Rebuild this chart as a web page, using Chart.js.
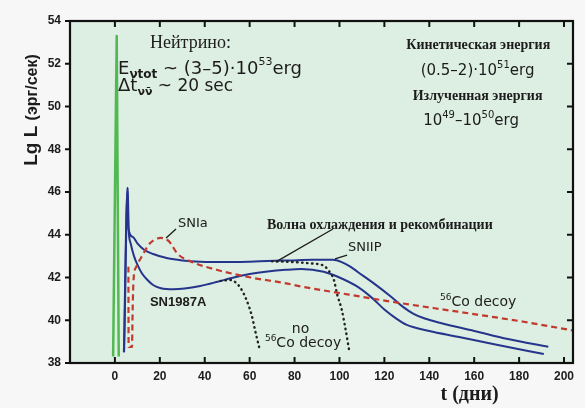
<!DOCTYPE html>
<html>
<head>
<meta charset="utf-8">
<script src="https://cdn.jsdelivr.net/npm/chart.js@4.4.1/dist/chart.umd.min.js"></script>
<style>
  html, body { margin: 0; padding: 0; background: #f7f7f7; }
  #wrap { width: 585px; height: 408px; }
</style>
</head>
<body>
<div id="wrap"><canvas id="lumChart"></canvas></div>
<script>
// axis ticks: time in days, log luminosity
var xTicks = [0, 20, 40, 60, 80, 100, 120, 140, 160, 180, 200];
var yTicks = [38, 40, 42, 44, 46, 48, 50, 52, 54];

// neutrino burst
var neutrinoT = [-0.8, 0.8, 1.7];
var neutrinoL = [38.3, 53.3, 38.3];

// SNIIP light curve (plateau)
var sniipT = [4.0, 5.6, 6.0, 8, 10, 13, 17, 23.5, 30, 38, 50, 60, 68, 78, 88, 97, 101, 105, 108, 115, 123, 128, 133, 138, 145, 160, 175, 193];
var sniipL = [38.5, 46.2, 44.3, 43.9, 43.6, 43.3, 43.1, 42.9, 42.8, 42.74, 42.72, 42.74, 42.77, 42.8, 42.83, 42.83, 42.72, 42.5, 42.27, 41.75, 41.1, 40.65, 40.3, 40.08, 39.87, 39.5, 39.12, 38.76];

// SN1987A light curve
var sn87T = [4.1, 5.7, 6.1, 7, 8.5, 10, 12, 14.5, 17, 20.5, 26, 31, 38, 45.7, 52, 60, 68, 76, 83, 93, 100, 108, 115, 120, 125, 130, 140, 152.7, 170, 191];
var sn87L = [38.5, 46.2, 44.3, 43.6, 43.0, 42.6, 42.2, 41.88, 41.65, 41.5, 41.45, 41.48, 41.6, 41.8, 41.98, 42.16, 42.28, 42.36, 42.4, 42.27, 42.0, 41.57, 41.0, 40.5, 40.1, 39.78, 39.5, 39.23, 38.85, 38.42];

// SNIa light curve and 56Co decay tail
var sniaT = [6.0, 6.1, 7.6, 7.9, 8.3, 9.5, 11.9, 15.6, 20.5, 24, 28, 34, 45.6, 60.5, 75.5, 83, 100.7, 123, 152.7, 182, 204];
var sniaL = [42.5, 38.75, 38.75, 40.5, 41.9, 42.5, 42.97, 43.6, 43.85, 43.7, 43.1, 42.74, 42.35, 42.0, 41.74, 41.58, 41.26, 40.87, 40.4, 39.93, 39.52];

// curves without 56Co decay
var noCoAT = [47, 51.7, 54, 56, 58, 59.5, 61, 62.5, 64.3];
var noCoAL = [41.84, 41.88, 41.75, 41.5, 41.1, 40.7, 40.2, 39.5, 38.7];
var noCoBT = [70, 80, 87, 93, 96, 97.5, 99, 101, 102.5, 104.3];
var noCoBL = [42.76, 42.72, 42.66, 42.55, 42.2, 41.9, 41.2, 40.5, 39.7, 38.6];

function pts(ts, ls) {
  return ts.map(function (t, i) { return { x: t, y: ls[i] }; });
}

var BLUE = '#26358c';
var RED = '#c23a2e';
var INK = '#1c1c1c';
var SANS = "'DejaVu Sans'";
var SERIF = "'Liberation Serif'";

// draw a run of text pieces with their own fonts and vertical shifts
function drawRich(ctx, x, y, segs, align) {
  var total = 0;
  segs.forEach(function (s) { ctx.font = s.f; total += ctx.measureText(s.t).width; });
  var cx = align === 'center' ? x - total / 2 : x;
  ctx.textAlign = 'left';
  ctx.textBaseline = 'alphabetic';
  segs.forEach(function (s) {
    ctx.font = s.f;
    ctx.fillText(s.t, cx, y + (s.dy || 0));
    cx += ctx.measureText(s.t).width;
  });
}

var labels = [
  { t: 15.6, y: 52.74, segs: [{ t: 'Нейтрино:', f: '18px ' + SERIF }] },
  { t: 1.4, y: 51.52, segs: [
    { t: 'E', f: '18px ' + SANS },
    { t: 'νtot', f: 'bold 12px ' + SANS, dy: 4 },
    { t: ' ~ (3–5)·10', f: '18px ' + SANS },
    { t: '53', f: '11px ' + SANS, dy: -9 },
    { t: 'erg', f: '18px ' + SANS }] },
  { t: 1.4, y: 50.73, segs: [
    { t: 'Δt', f: '18px ' + SANS },
    { t: 'νν\u0304', f: 'bold 11px ' + SANS, dy: 4 },
    { t: ' ~ 20 sec', f: '17px ' + SANS }] },
  { t: 161.8, y: 52.69, align: 'center', segs: [{ t: 'Кинетическая энергия', f: 'bold 14px ' + SERIF }] },
  { t: 161.5, y: 51.47, align: 'center', segs: [
    { t: '(0.5–2)·10', f: '15px ' + SANS },
    { t: '51', f: '10px ' + SANS, dy: -7 },
    { t: 'erg', f: '15px ' + SANS }] },
  { t: 161.5, y: 50.30, align: 'center', segs: [{ t: 'Излученная энергия', f: 'bold 14px ' + SERIF }] },
  { t: 158.6, y: 49.13, align: 'center', segs: [
    { t: '10', f: '15px ' + SANS },
    { t: '49', f: '10px ' + SANS, dy: -7 },
    { t: '–10', f: '15px ' + SANS },
    { t: '50', f: '10px ' + SANS, dy: -7 },
    { t: 'erg', f: '15px ' + SANS }] },
  { t: 67.7, y: 44.27, segs: [{ t: 'Волна охлаждения и рекомбинации', f: 'bold 14px ' + SERIF }] },
  { t: 28.1, y: 44.36, segs: [{ t: 'SNIa', f: '13px ' + SANS }] },
  { t: 103.8, y: 43.24, segs: [{ t: 'SNIIP', f: '13px ' + SANS }] },
  { t: 15.6, y: 40.67, segs: [{ t: 'SN1987A', f: 'bold 13px Liberation Sans' }] },
  { t: 78.8, y: 39.40, segs: [{ t: 'no', f: '14px ' + SANS }] },
  { t: 66.8, y: 38.75, segs: [{ t: '56', f: '9px ' + SANS, dy: -6 }, { t: 'Co decoy', f: '14px ' + SANS }] },
  { t: 144.8, y: 40.67, segs: [{ t: '56', f: '9px ' + SANS, dy: -6 }, { t: 'Co decoy', f: '14px ' + SANS }] }
];

// leader lines from labels to curves
var leaders = [
  [27.2, 44.27, 22.8, 43.85],
  [97.1, 44.27, 71.7, 42.73],
  [103.4, 43.05, 98.0, 42.87]
];

var framePlugin = {
  id: 'frame',
  beforeDraw: function (chart) {
    var ctx = chart.ctx, a = chart.chartArea;
    ctx.save();
    ctx.fillStyle = '#f7f7f7';
    ctx.fillRect(0, 0, chart.width, chart.height);
    ctx.fillStyle = '#ddeee2';
    ctx.fillRect(a.left, a.top, a.right - a.left, a.bottom - a.top);
    ctx.restore();
  },
  afterDatasetsDraw: function (chart) {
    var ctx = chart.ctx, a = chart.chartArea;
    var xs = chart.scales.x, ys = chart.scales.y;
    ctx.save();

    // leader lines
    ctx.strokeStyle = INK;
    ctx.lineWidth = 1.3;
    leaders.forEach(function (l) {
      ctx.beginPath();
      ctx.moveTo(xs.getPixelForValue(l[0]), ys.getPixelForValue(l[1]));
      ctx.lineTo(xs.getPixelForValue(l[2]), ys.getPixelForValue(l[3]));
      ctx.stroke();
    });

    // text notes
    ctx.fillStyle = INK;
    labels.forEach(function (lb) {
      drawRich(ctx, xs.getPixelForValue(lb.t), ys.getPixelForValue(lb.y), lb.segs, lb.align);
    });

    // frame and tick marks
    ctx.strokeStyle = '#111';
    ctx.lineWidth = 2.2;
    ctx.strokeRect(a.left, a.top, a.right - a.left, a.bottom - a.top);
    ctx.lineWidth = 2;
    ctx.beginPath();
    xTicks.forEach(function (v) {
      var p = xs.getPixelForValue(v);
      ctx.moveTo(p, a.top); ctx.lineTo(p, a.top + 6);
      ctx.moveTo(p, a.bottom); ctx.lineTo(p, a.bottom - 6);
    });
    yTicks.forEach(function (v) {
      var p = ys.getPixelForValue(v);
      ctx.moveTo(a.left - 5, p); ctx.lineTo(a.left + 1, p);
      ctx.moveTo(a.right, p); ctx.lineTo(a.right - 6, p);
    });
    ctx.stroke();

    // axis titles
    ctx.fillStyle = INK;
    drawRich(ctx, xs.getPixelForValue(145), 400, [{ t: 't (дни)', f: 'bold 20px ' + SERIF }]);
    ctx.translate(37, 110);
    ctx.rotate(-Math.PI / 2);
    drawRich(ctx, 0, 0, [
      { t: 'Lg L ', f: 'bold 19px Liberation Sans' },
      { t: '(эрг/сек)', f: 'bold 16px Liberation Sans' }], 'center');
    ctx.restore();
  }
};

var ctx = document.getElementById('lumChart').getContext('2d');
new Chart(ctx, {
  type: 'line',
  data: {
    datasets: [
      { data: pts(neutrinoT, neutrinoL), borderColor: '#52b952', borderWidth: 2.5, tension: 0 },
      { data: pts(sniaT, sniaL), borderColor: RED, borderWidth: 2.2, borderDash: [6, 4], cubicInterpolationMode: 'monotone' },
      { data: pts(noCoAT, noCoAL), borderColor: '#222', borderWidth: 2.4, borderDash: [0.5, 4.5], borderCapStyle: 'round', cubicInterpolationMode: 'monotone' },
      { data: pts(noCoBT, noCoBL), borderColor: '#222', borderWidth: 2.4, borderDash: [0.5, 4.5], borderCapStyle: 'round', cubicInterpolationMode: 'monotone' },
      { data: pts(sn87T, sn87L), borderColor: BLUE, borderWidth: 2, cubicInterpolationMode: 'monotone' },
      { data: pts(sniipT, sniipL), borderColor: BLUE, borderWidth: 2, cubicInterpolationMode: 'monotone' }
    ]
  },
  options: {
    responsive: true,
    maintainAspectRatio: false,
    animation: false,
    layout: { padding: { top: 21, right: 12, left: 0, bottom: 0 } },
    elements: { point: { radius: 0 }, line: { borderJoinStyle: 'round' } },
    plugins: { legend: { display: false }, tooltip: { enabled: false } },
    scales: {
      x: {
        type: 'linear', min: -20, max: 204,
        afterBuildTicks: function (s) { s.ticks = xTicks.map(function (v) { return { value: v }; }); },
        afterFit: function (s) { s.height = 45; },
        grid: { display: false, drawTicks: false },
        border: { display: false },
        ticks: { padding: 6, color: INK, font: { family: 'Liberation Sans', weight: 'bold', size: 12 } }
      },
      y: {
        type: 'linear', min: 38, max: 54,
        afterBuildTicks: function (s) { s.ticks = yTicks.map(function (v) { return { value: v }; }); },
        afterFit: function (s) { s.width = 70; },
        grid: { display: false, drawTicks: false },
        border: { display: false },
        ticks: { padding: 9, color: INK, font: { family: 'Liberation Sans', weight: 'bold', size: 12 } }
      }
    }
  },
  plugins: [framePlugin]
});
</script>
</body>
</html>
